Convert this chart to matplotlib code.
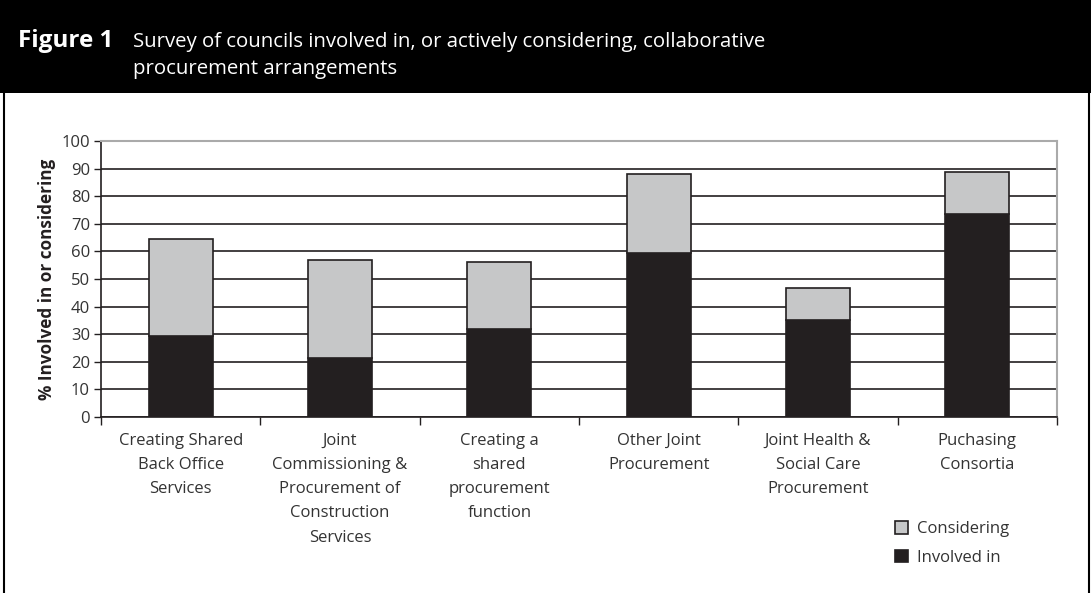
import numpy as np
import matplotlib
matplotlib.use('Agg')
import matplotlib.pyplot as plt
from matplotlib.patches import Rectangle
from matplotlib.lines import Line2D

categories = [
    "Creating Shared\nBack Office\nServices",
    "Joint\nCommissioning &\nProcurement of\nConstruction\nServices",
    "Creating a\nshared\nprocurement\nfunction",
    "Other Joint\nProcurement",
    "Joint Health &\nSocial Care\nProcurement",
    "Puchasing\nConsortia",
]
involved = [29.4, 21.4, 31.8, 59.5, 35.1, 73.4]
considering = [35.0, 35.4, 24.2, 28.4, 11.5, 15.2]
y_ticks = list(range(0, 101, 10))

plt.rcParams['font.family'] = ['Open Sans', 'DejaVu Sans']
W, H = 1091, 593
fig = plt.figure(figsize=(W / 100, H / 100), dpi=100, facecolor='white')

# header bar and frame
fig.patches.append(Rectangle((0, 1 - 93 / H), 1, 93 / H, transform=fig.transFigure,
                             facecolor='black', edgecolor='none', zorder=0))
fig.lines.append(Line2D([3.5 / W, 3.5 / W], [0, 1 - 93 / H], transform=fig.transFigure,
                        color='black', lw=1.5))
fig.lines.append(Line2D([1088.5 / W, 1088.5 / W], [0, 1 - 93 / H], transform=fig.transFigure,
                        color='black', lw=1.5))
fig.text(18 / W, 1 - 47 / H, "Figure 1", color='white', fontsize=17.5, fontweight='bold',
         va='baseline', ha='left')
fig.text(133 / W, 1 - 47 / H, "Survey of councils involved in, or actively considering, collaborative",
         color='white', fontsize=14.7, va='baseline', ha='left')
fig.text(133 / W, 1 - 74 / H, "procurement arrangements",
         color='white', fontsize=14.7, va='baseline', ha='left')

ax = fig.add_axes([101 / W, 1 - 417 / H, (1057 - 101) / W, (417 - 141) / H])
x = np.arange(len(categories))
involved_color = '#231f20'
considering_color = '#c6c7c8'
b1 = ax.bar(x, involved, width=0.4, color=involved_color, edgecolor='#231f20', lw=1.2,
            zorder=3, label='Involved in')
b2 = ax.bar(x, considering, width=0.4, bottom=involved, color=considering_color,
            edgecolor='#231f20', lw=1.2, zorder=3, label='Considering')

ax.set_xlim(-0.5, len(categories) - 0.5)
ax.set_ylim(0, 100)
ax.set_yticks(y_ticks)
ax.set_yticklabels([str(t) for t in y_ticks], fontsize=12, color='#333333')
ax.yaxis.grid(True, color='#231f20', lw=1.2, zorder=0)
ax.set_axisbelow(True)

ax.set_xticks(np.arange(-0.5, len(categories), 1.0))
ax.set_xticklabels([])
ax.tick_params(axis='x', direction='out', length=6, width=1, color='#231f20')
ax.tick_params(axis='y', direction='out', length=5, width=1, color='#231f20', pad=3)
for i, lab in enumerate(categories):
    ax.text(i, -5.8, lab, ha='center', va='top', fontsize=12, color='#333333',
            linespacing=1.68, transform=ax.transData)

for side in ['top', 'right']:
    ax.spines[side].set_color('#aaaaaa')
    ax.spines[side].set_linewidth(1.5)
for side in ['left', 'bottom']:
    ax.spines[side].set_color('#231f20')
    ax.spines[side].set_linewidth(1.2)

ax.set_ylabel('% Involved in or considering', fontsize=12.3, fontweight='bold',
              color='#231f20', labelpad=4)

leg = fig.legend(handles=[b2, b1], labels=['Considering', 'Involved in'],
                 loc='upper left', bbox_to_anchor=(880 / W, 1 - 506 / H),
                 frameon=False, fontsize=12, handlelength=0.8, handleheight=0.8,
                 handletextpad=0.5, labelspacing=0.75)
for t in leg.get_texts():
    t.set_color('#333333')

fig.savefig('out.png', dpi=100, facecolor='white')
